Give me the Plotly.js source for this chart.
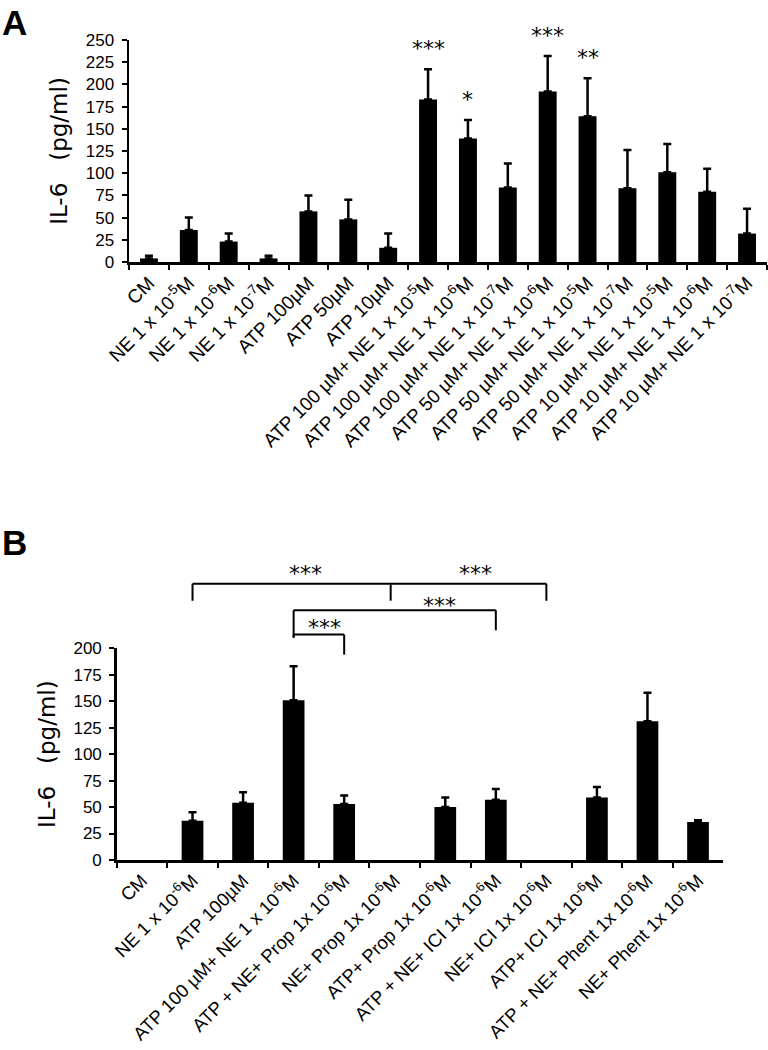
<!DOCTYPE html>
<html>
<head>
<meta charset="utf-8">
<script src="https://cdn.plot.ly/plotly-3.0.1.min.js"></script>
<style>html,body{margin:0;padding:0;background:#fff;}#chart{width:768px;height:1050px;}</style>
</head>
<body>
<div id="chart"></div>
<script>
// ---------- Panel A data ----------
const catsA = [
  "CM",
  "NE 1 x 10<sup>-5</sup>M",
  "NE 1 x 10<sup>-6</sup>M",
  "NE 1 x 10<sup>-7</sup>M",
  "ATP 100µM",
  "ATP 50µM",
  "ATP 10µM",
  "ATP 100 µM+ NE 1 x 10<sup>-5</sup>M",
  "ATP 100 µM+ NE 1 x 10<sup>-6</sup>M",
  "ATP 100 µM+ NE 1 x 10<sup>-7</sup>M",
  "ATP 50 µM+ NE 1 x 10<sup>-6</sup>M",
  "ATP 50 µM+ NE 1 x 10<sup>-5</sup>M",
  "ATP 50 µM+ NE 1 x 10<sup>-7</sup>M",
  "ATP 10 µM+ NE 1 x 10<sup>-5</sup>M",
  "ATP 10 µM+ NE 1 x 10<sup>-6</sup>M",
  "ATP 10 µM+ NE 1 x 10<sup>-7</sup>M"
];
const valuesA = [4, 36, 23, 4, 57, 48, 16, 183, 139, 84, 192, 164, 83, 101, 79, 32];
const errorsA = [3, 14, 9, 3, 18, 22, 16, 34, 21, 27, 40, 43, 43, 32, 26, 28];
const sigA    = ["", "", "", "", "", "", "", "***", "*", "", "***", "**", "", "", "", ""];
const yTicksA = [0, 25, 50, 75, 100, 125, 150, 175, 200, 225, 250];

// ---------- Panel B data ----------
const catsB = [
  "CM",
  "NE 1 x 10<sup>-6</sup>M",
  "ATP 100µM",
  "ATP 100 µM+ NE 1 x 10<sup>-6</sup>M",
  "ATP + NE+ Prop 1x 10<sup>-6</sup>M",
  "NE+ Prop 1x 10<sup>-6</sup>M",
  "ATP+ Prop 1x 10<sup>-6</sup>M",
  "ATP + NE+ ICI 1x 10<sup>-6</sup>M",
  "NE+ ICI 1x 10<sup>-6</sup>M",
  "ATP+ ICI 1x 10<sup>-6</sup>M",
  "ATP + NE+ Phent 1x 10<sup>-6</sup>M",
  "NE+ Phent 1x 10<sup>-6</sup>M"
];
const valuesB = [0, 37, 54, 151, 53, 0, 50, 57, 0, 59, 131, 36];
const errorsB = [0, 8, 10, 32, 8, 0, 9, 10, 0, 10, 27, 1.5];
const yTicksB = [0, 25, 50, 75, 100, 125, 150, 175, 200];

// significance brackets for panel B: legs (category index, leg bottom), bar level
const bracketsB = [
  {level: 261, legs: [[1, 245], [4.92, 245], [8, 245]]},
  {level: 236, legs: [[3, 210], [7, 217]]},
  {level: 213, legs: [[3, 210], [4, 194]]}
];
const starsB = [
  {x: 3.24, y: 274, text: "***"},
  {x: 6.59, y: 274, text: "***"},
  {x: 5.88, y: 244, text: "***"},
  {x: 3.62, y: 223, text: "***"}
];

const maxB = 200, maxA = 250;

const errStyle = {type: 'data', symmetric: false, color: '#000', thickness: 2.5, width: 4};
// no error whisker drawn for empty (zero) bars
const errOrNone = (vals, errs) => errs.map((e, i) => vals[i] === 0 ? NaN : e);
const minusOrNone = (vals) => vals.map(v => v === 0 ? NaN : 0);

const traces = [
  {
    type: 'bar', x: catsA, y: valuesA, xaxis: 'x', yaxis: 'y',
    marker: {color: '#000', line: {width: 0}}, width: 0.45,
    error_y: Object.assign({}, errStyle, {array: errOrNone(valuesA, errorsA), arrayminus: minusOrNone(valuesA)}),
    hoverinfo: 'none'
  },
  {
    type: 'bar', x: catsB, y: valuesB, xaxis: 'x2', yaxis: 'y2',
    marker: {color: '#000', line: {width: 0}}, width: 0.43,
    error_y: Object.assign({}, errStyle, {array: errOrNone(valuesB, errorsB), arrayminus: minusOrNone(valuesB)}),
    hoverinfo: 'none'
  }
];

const W = 768, H = 1050;
const axisCommon = {
  showgrid: false, zeroline: false, showline: true, linecolor: '#000', linewidth: 2.5,
  ticks: 'outside', ticklen: 5, tickwidth: 2, tickcolor: '#000', fixedrange: true
};
const tickFontY = {family: 'Liberation Sans, Arial, sans-serif', size: 17, color: '#000'};
const tickFontXA = {family: 'Liberation Sans, Arial, sans-serif', size: 19, color: '#000'};
const tickFontXB = {family: 'Liberation Sans, Arial, sans-serif', size: 18.5, color: '#000'};
const titleFont = {family: 'DejaVu Sans, sans-serif', size: 23, color: '#000'};
const starFont = {family: 'DejaVu Sans, sans-serif', size: 22, color: '#000'};

const annotations = [];
// stars panel A
sigA.forEach((s, i) => {
  if (!s) return;
  annotations.push({
    xref: 'x', yref: 'y', x: i, y: valuesA[i] + errorsA[i], text: s, showarrow: false,
    yanchor: 'bottom', yshift: 6, font: starFont
  });
});
// stars panel B
starsB.forEach(s => {
  annotations.push({
    xref: 'x2', yref: 'y2 domain', x: s.x, y: s.y / maxB, text: s.text, showarrow: false,
    yanchor: 'middle', yshift: -4, font: starFont
  });
});
// panel letters
annotations.push({xref: 'paper', yref: 'paper', x: 0, y: 1 - 1 / H, xanchor: 'left', yanchor: 'top',
  text: '<b>A</b>', showarrow: false, font: {family: 'Liberation Sans, Arial, sans-serif', size: 35, color: '#000'}});
annotations.push({xref: 'paper', yref: 'paper', x: 0, y: 1 - 521 / H, xanchor: 'left', yanchor: 'top',
  text: '<b>B</b>', showarrow: false, font: {family: 'Liberation Sans, Arial, sans-serif', size: 35, color: '#000'}});

const shapes = [];
const lineStyle = {color: '#000', width: 2};
bracketsB.forEach(b => {
  const xs = b.legs.map(l => l[0]);
  shapes.push({type: 'line', xref: 'x2', yref: 'y2 domain',
    x0: Math.min(...xs), x1: Math.max(...xs), y0: b.level / maxB, y1: b.level / maxB, line: lineStyle});
  b.legs.forEach(l => {
    shapes.push({type: 'line', xref: 'x2', yref: 'y2 domain',
      x0: l[0], x1: l[0], y0: b.level / maxB, y1: l[1] / maxB, line: lineStyle});
  });
});

const layout = {
  width: W, height: H,
  margin: {l: 0, r: 0, t: 0, b: 0},
  paper_bgcolor: '#fff', plot_bgcolor: '#fff',
  showlegend: false,
  font: {family: 'Liberation Sans, Arial, sans-serif', color: '#000'},
  bargap: 0.5,
  xaxis: Object.assign({}, axisCommon, {
    domain: [129 / W, 767 / W], anchor: 'y', type: 'category', tickson: 'boundaries',
    tickangle: -45, tickfont: tickFontXA, automargin: false
  }),
  yaxis: Object.assign({}, axisCommon, {
    domain: [(H - 262) / H, (H - 40) / H], anchor: 'x', range: [0, maxA],
    tickvals: yTicksA, tickfont: tickFontY, automargin: false, ticklabelstandoff: 4,
    title: {text: 'IL-6   (pg/ml)', font: titleFont, standoff: 12}
  }),
  xaxis2: Object.assign({}, axisCommon, {
    domain: [116.7 / W, 723.3 / W], anchor: 'y2', type: 'category', tickson: 'boundaries',
    tickangle: -45, tickfont: tickFontXB, automargin: false
  }),
  yaxis2: Object.assign({}, axisCommon, {
    domain: [(H - 860) / H, (H - 648.3) / H], anchor: 'x2', range: [0, maxB],
    tickvals: yTicksB, tickfont: tickFontY, automargin: false, ticklabelstandoff: 4,
    title: {text: 'IL-6   (pg/ml)', font: titleFont, standoff: 12}
  }),
  annotations: annotations,
  shapes: shapes
};

Plotly.newPlot('chart', traces, layout, {staticPlot: true, displayModeBar: false});
</script>
</body>
</html>
